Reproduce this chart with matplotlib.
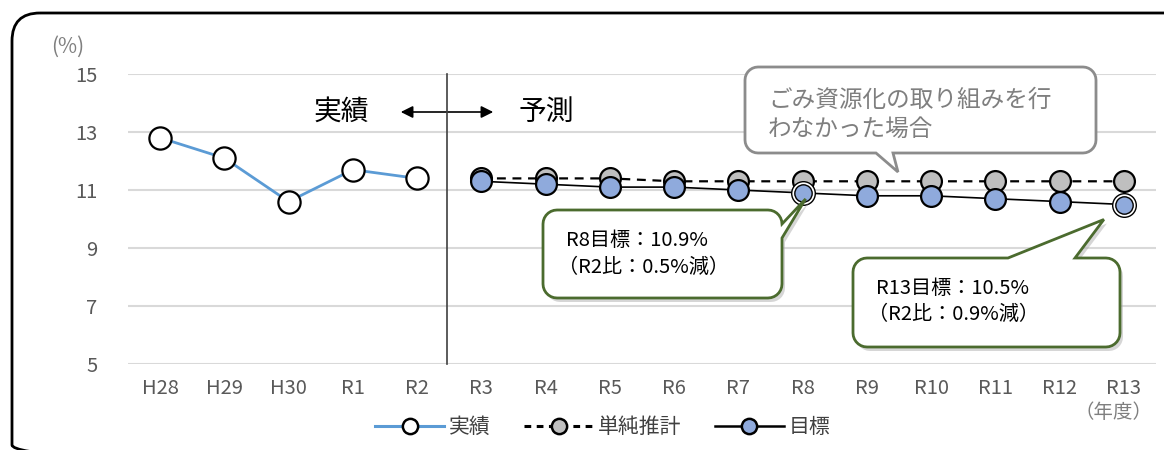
import numpy as np
import matplotlib
matplotlib.use("Agg")
import matplotlib.pyplot as plt
from matplotlib.patches import Polygon, FancyBboxPatch, FancyArrowPatch
from matplotlib.lines import Line2D

plt.rcParams['font.family'] = ['Noto Sans CJK JP', 'DejaVu Sans']

# data
years = ["H28", "H29", "H30", "R1", "R2", "R3", "R4", "R5", "R6", "R7",
         "R8", "R9", "R10", "R11", "R12", "R13"]
actual = [12.8, 12.1, 10.6, 11.7, 11.4]
simple_est = [11.4, 11.4, 11.4, 11.3, 11.3, 11.3, 11.3, 11.3, 11.3, 11.3, 11.3]
target = [11.3, 11.2, 11.1, 11.1, 11.0, 10.9, 10.8, 10.8, 10.7, 10.6, 10.5]
y_ticks = [5, 7, 9, 11, 13, 15]

x_all = np.arange(len(years))
x_act = x_all[:len(actual)]
x_fc = x_all[len(actual):]

W, H = 1164, 450
fig = plt.figure(figsize=(W / 100, H / 100), dpi=100)

# main axes placed in pixel terms
ax = fig.add_axes([128 / W, 1 - 364 / H, (1156 - 128) / W, (364 - 74) / H])
ax.set_xlim(-0.5, len(years) - 0.5)
ax.set_ylim(5, 15)
ax.set_yticks(y_ticks)
ax.set_xticks(x_all)
ax.set_xticklabels(years)
for s in ax.spines.values():
    s.set_visible(False)
ax.grid(axis='y', color='#D9D9D9', lw=1.5)
ax.set_axisbelow(True)
ax.tick_params(length=0, colors='#595959', labelsize=14.5)
ax.tick_params(axis='y', pad=22)
ax.tick_params(axis='x', pad=10)

ax.plot(x_fc, simple_est, color='black', lw=1.6, ls=(0, (4, 3)), marker='o',
        ms=15, mfc='#BFBFBF', mec='black', mew=1.6, zorder=3)
ax.plot(x_fc, target, color='black', lw=1.2, marker='o',
        ms=15, mfc='#8FAADC', mec='black', mew=1.6, zorder=4)
# double ring on R8 and R13 targets
for yr in ["R8", "R13"]:
    i = years.index(yr)
    v = target[i - len(actual)]
    ax.plot([i], [v], marker='o', ms=17, mfc='white', mec='black', mew=1.0, zorder=5)
    ax.plot([i], [v], marker='o', ms=12.5, mfc='#8FAADC', mec='black', mew=1.0, zorder=6)
ax.plot(x_act, actual, color='#5B9BD5', lw=2, marker='o',
        ms=16, mfc='white', mec='black', mew=1.6, zorder=4)

# legend
handles = [
    Line2D([], [], color='#5B9BD5', lw=2.2, marker='o', ms=11, mfc='white', mec='black', mew=1.8),
    Line2D([], [], color='black', lw=2.2, ls=(0, (2.2, 1.8)), marker='o', ms=11, mfc='#BFBFBF', mec='black', mew=1.8),
    Line2D([], [], color='black', lw=1.8, marker='o', ms=11, mfc='#8FAADC', mec='black', mew=1.8),
]
fig.legend(handles, ["実績", "単純推計", "目標"], loc='center',
           bbox_to_anchor=(603 / W, 1 - 427 / H), ncol=3, frameon=False,
           fontsize=15, handlelength=3.3, handletextpad=0.25, columnspacing=1.6,
           labelcolor='#404040')

# decoration overlay in pixel coordinates (y down)
deco = fig.add_axes([0, 0, 1, 1], zorder=10)
deco.set_xlim(0, W)
deco.set_ylim(H, 0)
deco.axis('off')
deco.patch.set_alpha(0)


def to_px(x, y):
    disp = ax.transData.transform((x, y))
    return deco.transData.inverted().transform(disp)


def callout(x0, y0, x1, y1, r, side, a, b, tip, n=8):
    pts = []

    def arc(cx, cy, t0, t1):
        for t in np.linspace(np.radians(t0), np.radians(t1), n):
            pts.append((cx + r * np.cos(t), cy + r * np.sin(t)))

    arc(x0 + r, y0 + r, 180, 270)
    if side == 'top':
        pts += [(a, y0), tuple(tip), (b, y0)]
    arc(x1 - r, y0 + r, 270, 360)
    if side == 'right':
        pts += [(x1, a), tuple(tip), (x1, b)]
    arc(x1 - r, y1 - r, 0, 90)
    if side == 'bottom':
        pts += [(b, y1), tuple(tip), (a, y1)]
    arc(x0 + r, y1 - r, 90, 180)
    return np.array(pts)


# outer frame
deco.add_patch(FancyBboxPatch((12, 13), 1180, 460, boxstyle="round,pad=0,rounding_size=28",
                              fc='none', ec='black', lw=2, clip_on=False))

# divider between actual and forecast
deco.plot([447, 447], [74, 364], color='#404040', lw=1.2)
deco.add_patch(FancyArrowPatch((398, 112), (496, 112), arrowstyle='<|-|>',
                               mutation_scale=18, color='black', lw=1.2))
deco.text(341, 112, "実績", fontsize=20, ha='center', va='center', color='black')
deco.text(546, 112, "予測", fontsize=20, ha='center', va='center', color='black')

deco.text(68, 47, "(%)", fontsize=15, ha='center', va='center', color='#7F7F7F')
deco.text(1114, 412, "（年度）", fontsize=14, ha='center', va='center', color='#7F7F7F')

# grey callout
g = callout(745, 67, 1096, 153, 13, 'bottom', 876, 893, (898, 172))
deco.add_patch(Polygon(g, closed=True, fc='white', ec='#8C8C8C', lw=2))
deco.text(768, 100, "ごみ資源化の取り組みを行", fontsize=17, va='center', color='#7F7F7F')
deco.text(768, 129, "わなかった場合", fontsize=17, va='center', color='#7F7F7F')

# green callouts
i8 = years.index("R8")
tip8 = to_px(i8, target[i8 - len(actual)]) + np.array([3, 6])
c8 = callout(543, 210, 782, 298, 14, 'right', 224, 238, tip8)
i13 = years.index("R13")
tip13 = to_px(i13, target[i13 - len(actual)]) + np.array([-20, 15])
c13 = callout(853, 258, 1120, 347, 14, 'top', 1008, 1075, tip13)
for c in (c8, c13):
    deco.add_patch(Polygon(c + np.array([3, 4]), closed=True, fc='#A6A6A6', ec='none', alpha=0.45))
    deco.add_patch(Polygon(c, closed=True, fc='white', ec='#4B6B2E', lw=2))

deco.text(566, 240, "R8目標：10.9%", fontsize=14.5, va='center', color='black')
deco.text(558, 267, "（R2比：0.5%減）", fontsize=14.5, va='center', color='black')
deco.text(876, 288, "R13目標：10.5%", fontsize=14.5, va='center', color='black')
deco.text(868, 314, "（R2比：0.9%減）", fontsize=14.5, va='center', color='black')

fig.savefig("out.png", dpi=100)
